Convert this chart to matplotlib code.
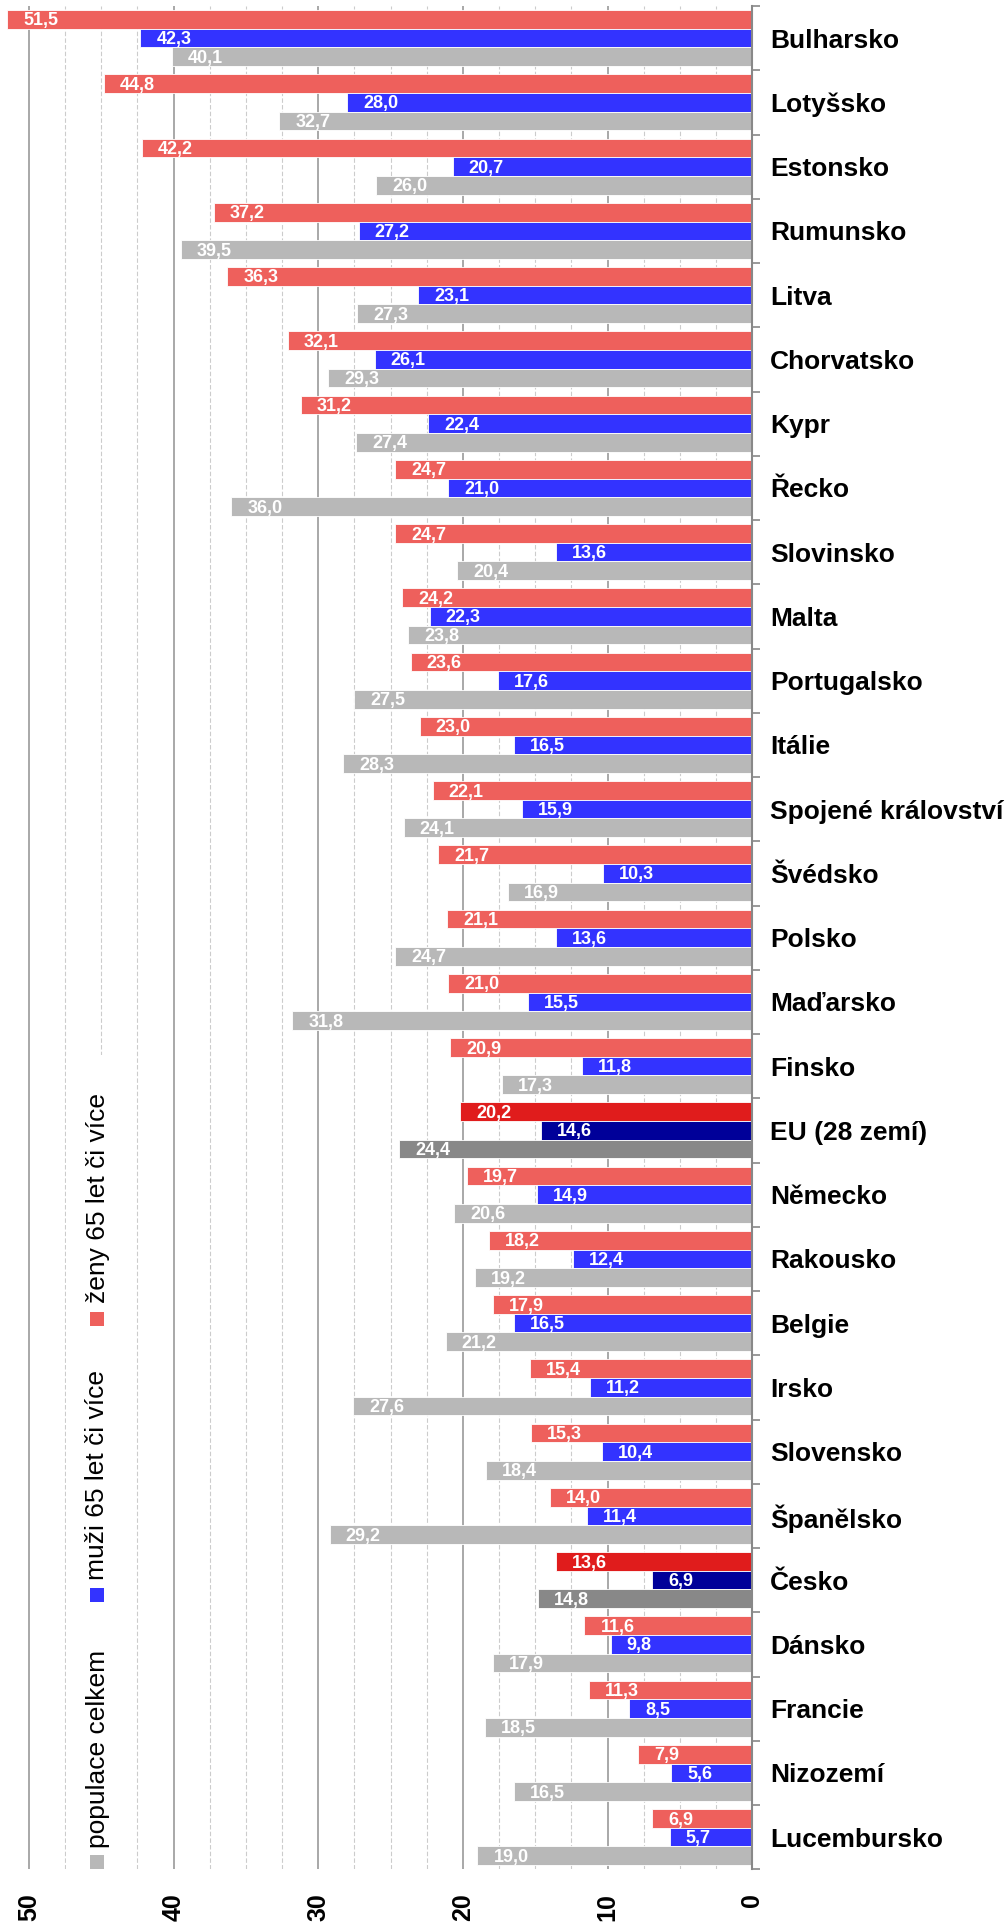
import matplotlib
matplotlib.use("Agg")
import matplotlib.pyplot as plt
from matplotlib.patches import Rectangle
from matplotlib.ticker import MultipleLocator, FixedLocator

plt.rcParams['font.family'] = ['Liberation Sans', 'DejaVu Sans']

countries = [
    "Bulharsko", "Lotyšsko", "Estonsko", "Rumunsko", "Litva", "Chorvatsko",
    "Kypr", "Řecko", "Slovinsko", "Malta", "Portugalsko", "Itálie",
    "Spojené království", "Švédsko", "Polsko", "Maďarsko", "Finsko",
    "EU (28 zemí)", "Německo", "Rakousko", "Belgie", "Irsko", "Slovensko",
    "Španělsko", "Česko", "Dánsko", "Francie", "Nizozemí", "Lucembursko",
]
women_65 = [51.5, 44.8, 42.2, 37.2, 36.3, 32.1, 31.2, 24.7, 24.7, 24.2, 23.6,
            23.0, 22.1, 21.7, 21.1, 21.0, 20.9, 20.2, 19.7, 18.2, 17.9, 15.4,
            15.3, 14.0, 13.6, 11.6, 11.3, 7.9, 6.9]
men_65 = [42.3, 28.0, 20.7, 27.2, 23.1, 26.1, 22.4, 21.0, 13.6, 22.3, 17.6,
          16.5, 15.9, 10.3, 13.6, 15.5, 11.8, 14.6, 14.9, 12.4, 16.5, 11.2,
          10.4, 11.4, 6.9, 9.8, 8.5, 5.6, 5.7]
population = [40.1, 32.7, 26.0, 39.5, 27.3, 29.3, 27.4, 36.0, 20.4, 23.8, 27.5,
              28.3, 24.1, 16.9, 24.7, 31.8, 17.3, 24.4, 20.6, 19.2, 21.2, 27.6,
              18.4, 29.2, 14.8, 17.9, 18.5, 16.5, 19.0]
highlighted = ["EU (28 zemí)", "Česko"]

series_labels = ["ženy 65 let či více", "muži 65 let či více", "populace celkem"]
base_colors = ["#EE605C", "#3333FF", "#B8B8B8"]
strong_colors = ["#E01C1C", "#000099", "#888888"]
x_ticks = [0, 10, 20, 30, 40, 50]

W, H = 1008, 1923
fig = plt.figure(figsize=(W / 100, H / 100), dpi=100)
ax_left, ax_right, ax_top, ax_bottom = 0.0, 752.3, 6.0, 1869.3
ax = fig.add_axes([ax_left / W, 1 - ax_bottom / H,
                   (ax_right - ax_left) / W, (ax_bottom - ax_top) / H])

bar_h = 0.29
offsets = [-bar_h, 0.0, bar_h]
all_series = [women_65, men_65, population]

for s, (vals, off) in enumerate(zip(all_series, offsets)):
    for i, (name, v) in enumerate(zip(countries, vals)):
        col = strong_colors[s] if name in highlighted else base_colors[s]
        ax.barh(i + off, v, height=bar_h, color=col, edgecolor="white",
                linewidth=0.6, zorder=2)
        ax.annotate(f"{v:.1f}".replace(".", ","), xy=(v, i + off),
                    xytext=(16, -6), textcoords="offset pixels",
                    ha="left", va="baseline", color="white",
                    fontsize=13, fontweight="bold", zorder=3)

n = len(countries)
ax.set_xlim(52, 0)
ax.set_ylim(n - 0.5, -0.5)

# grid: solid every 10, dashed every 2.5
ax.xaxis.set_major_locator(FixedLocator(x_ticks))
ax.xaxis.set_minor_locator(MultipleLocator(2.5))
ax.grid(axis="x", which="major", color="#999999", linewidth=1.2, zorder=0)
ax.grid(axis="x", which="minor", color="#cccccc", linewidth=0.8,
        linestyle=(0, (4, 2)), zorder=0)
ax.set_axisbelow(True)
ax.set_xticklabels([str(t) for t in x_ticks], rotation=90,
                   fontsize=18, fontweight="bold")
ax.tick_params(axis="x", which="both", length=0, pad=17)

# categories on the right, boundary ticks between groups
ax.yaxis.tick_right()
ax.set_yticks(range(n))
ax.set_yticklabels(countries, fontsize=19, fontweight="bold")
ax.yaxis.set_minor_locator(FixedLocator([i - 0.5 for i in range(n + 1)]))
ax.tick_params(axis="y", which="major", length=0, pad=12.7)
ax.tick_params(axis="y", which="minor", length=6, width=1.2, color="#888888",
               direction="out", right=True, left=False)

for side in ["left", "top", "bottom"]:
    ax.spines[side].set_visible(False)
ax.spines["right"].set_color("#888888")
ax.spines["right"].set_linewidth(1.5)

# vertical legend on the left, on a white panel
fig.patches.append(Rectangle((66 / W, 1 - 1869 / H), 69 / W, (1869 - 1055) / H,
                             transform=fig.transFigure, facecolor="white",
                             edgecolor="none", zorder=4))
legend_items = [
    (series_labels[0], base_colors[0], 1318.5, 1303),
    (series_labels[1], base_colors[1], 1595, 1580),
    (series_labels[2], base_colors[2], 1861.5, 1848),
]
for label, col, marker_y, text_y in legend_items:
    fig.patches.append(Rectangle((90 / W, 1 - (marker_y + 7) / H), 14 / W, 14 / H,
                                 transform=fig.transFigure, facecolor=col,
                                 edgecolor="none", zorder=5))
    fig.text(97.5 / W, 1 - text_y / H, label, rotation=90, ha="center",
             va="bottom", fontsize=19, color="black", zorder=5)

fig.savefig("out.png", dpi=100)
